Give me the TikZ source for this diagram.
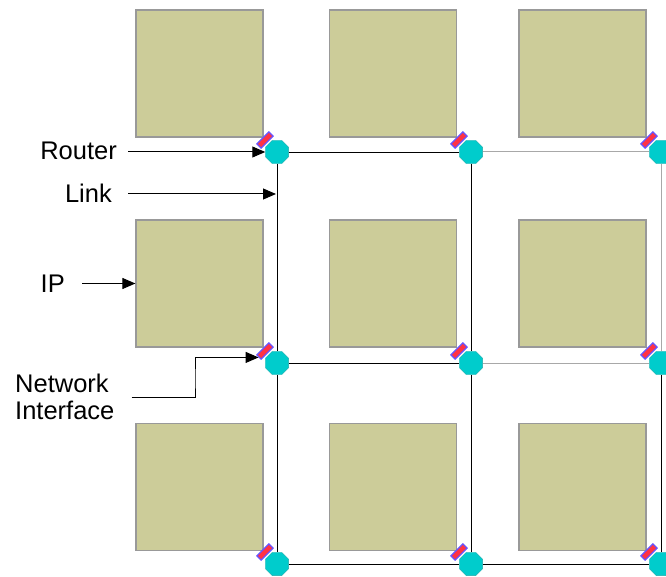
\documentclass[tikz,border=0pt]{standalone}
\usepackage{fontspec}
\setmainfont{Liberation Sans}
\usepackage{tikz}
\usetikzlibrary{shapes.geometric}
\usetikzlibrary{arrows.meta}
\usetikzlibrary{positioning}

\definecolor{ipFill}{HTML}{CCCC99}
\definecolor{ipBorder}{HTML}{999999}
\definecolor{routerFill}{HTML}{00CCCC}
\definecolor{routerBorder}{HTML}{22AAAA}
\definecolor{niFill}{HTML}{FF3344}
\definecolor{niBorder}{HTML}{6655FF}
\definecolor{linkGray}{HTML}{A8A8A8}

\begin{document}
\begin{tikzpicture}[x=1pt, y=-1pt,
		ipStyle/.style={rectangle, draw=ipBorder, fill=ipFill, line width=1.2pt, minimum width=127pt, minimum height=127pt, inner sep=0pt},
		routerStyle/.style={regular polygon, regular polygon sides=8, fill=routerFill, draw=routerBorder, line width=0.4pt, minimum size=25pt, inner sep=0pt},
		niStyle/.style={rectangle, rotate=45, fill=niFill, draw=niBorder, line width=1.2pt, minimum width=17pt, minimum height=6pt, inner sep=0pt},
		linkStyle/.style={line width=0.9pt},
		grayLinkStyle/.style={line width=1pt, linkGray},
		labelStyle/.style={font=\fontsize{25.5}{27}\selectfont, inner sep=0pt},
		pointerStyle/.style={line width=1pt, -{Triangle[length=13pt,width=11pt]}}]
			\useasboundingbox (0,0) rectangle (666,577);

			% IP cores
			\node[ipStyle] (ip11) at (199.5, 73.5) {};
			\node[ipStyle] (ip12) at (393, 73.5) {};
			\node[ipStyle] (ip13) at (582.5, 73.5) {};

			\node[ipStyle] (ip21) at (199.5, 283.5) {};
			\node[ipStyle] (ip22) at (393, 283.5) {};
			\node[ipStyle] (ip23) at (582.5, 283.5) {};

			\node[ipStyle] (ip31) at (199.5, 487) {};
			\node[ipStyle] (ip32) at (393, 487) {};
			\node[ipStyle] (ip33) at (582.5, 487) {};

			% Routers
			\node[routerStyle] (r11) at (277, 152) {};
			\node[routerStyle] (r12) at (471, 152) {};
			\node[routerStyle] (r13) at (661, 152) {};

			\node[routerStyle] (r21) at (277, 363) {};
			\node[routerStyle] (r22) at (471, 363) {};
			\node[routerStyle] (r23) at (661, 363) {};

			\node[routerStyle] (r31) at (277, 564) {};
			\node[routerStyle] (r32) at (471, 564) {};
			\node[routerStyle] (r33) at (661, 564) {};

			% Network interfaces
			\node[niStyle] (ni11) at (265, 140) {};
			\node[niStyle] (ni12) at (459, 140) {};
			\node[niStyle] (ni13) at (649, 140) {};

			\node[niStyle] (ni21) at (265, 351) {};
			\node[niStyle] (ni22) at (459, 351) {};
			\node[niStyle] (ni23) at (649, 351) {};

			\node[niStyle] (ni31) at (265, 552) {};
			\node[niStyle] (ni32) at (459, 552) {};
			\node[niStyle] (ni33) at (649, 552) {};

			% Links
			\draw[linkStyle] (r11) -- (r12);
			\draw[grayLinkStyle] (r12) -- (r13);
			\draw[linkStyle] (r21) -- (r22);
			\draw[grayLinkStyle] (r22) -- (r23);
			\draw[linkStyle] (r31) -- (r32);
			\draw[linkStyle] (r32) -- (r33);

			\draw[linkStyle] (r11) -- (r21);
			\draw[linkStyle] (r21) -- (r31);
			\draw[linkStyle] (r12) -- (r22);
			\draw[linkStyle] (r22) -- (r32);
			\draw[grayLinkStyle] (r13) -- (r23);
			\draw[linkStyle] (r23) -- (r33);

			% Labels
			\node[labelStyle, anchor=east] (router_label) at (117, 151) {Router};
			\node[labelStyle, anchor=east] (link_label) at (112, 193) {Link};
			\node[labelStyle, anchor=east] (ip_label) at (65, 284) {IP};
			\node[labelStyle, anchor=west, align=left] (ni_label) at (15, 397) {Network\\Interface};

			\coordinate (link_point) at (276, 194);
			\coordinate (ni_bend) at (195, 380);

			\draw[pointerStyle, shorten <=11pt] (router_label.east |- r11) -- (r11.west);
			\draw[pointerStyle, shorten <=16pt] (link_label.east |- link_point) -- (link_point);
			\draw[pointerStyle, shorten <=17pt] (ip_label.east |- ip21) -- (ip21.west);
			\draw[pointerStyle, shorten <=17pt] (ni_label.east) -| (ni_bend) |- (ni21.west);

		\end{tikzpicture}
\end{document}
